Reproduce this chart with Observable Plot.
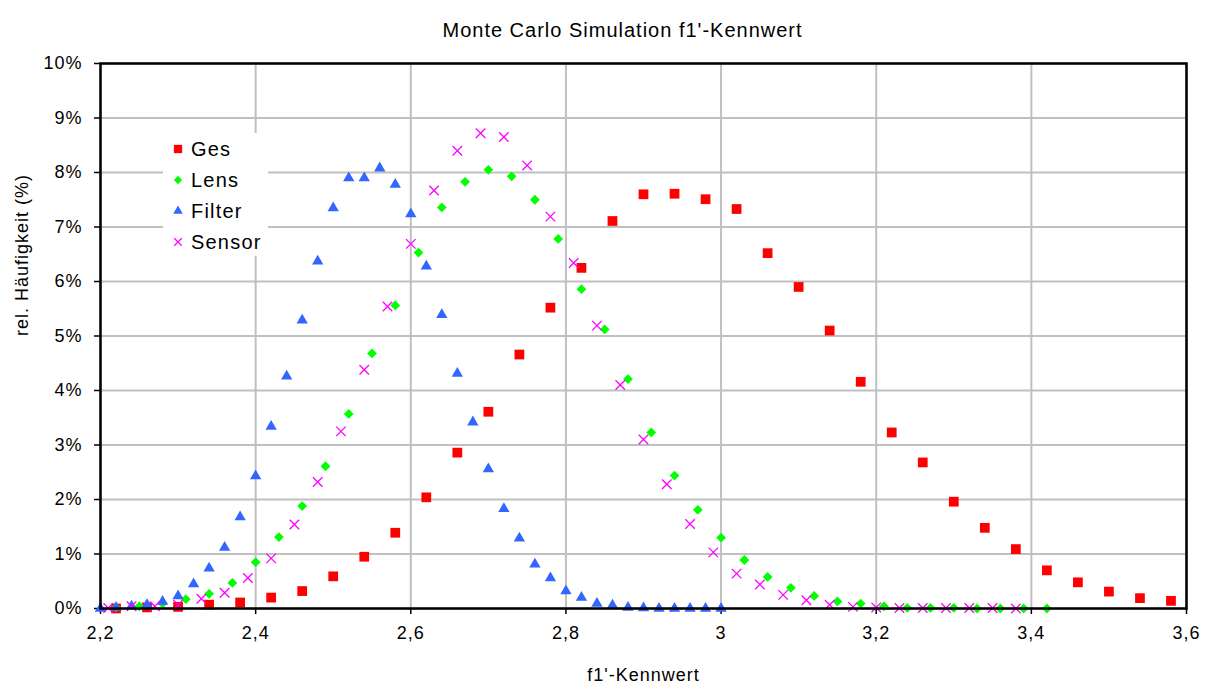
<!DOCTYPE html>
<html>
<head>
<meta charset="utf-8">
<script src="https://cdn.jsdelivr.net/npm/d3@7"></script>
<script src="https://cdn.jsdelivr.net/npm/@observablehq/plot@0.6"></script>
<style>
  html, body { margin: 0; padding: 0; background: white; }
  #chart { width: 1208px; height: 684px; }
  #chart svg text { letter-spacing: 1px; }
  #chart svg text.title { letter-spacing: 1.55px; }
  #chart svg text.ylab { letter-spacing: 0.3px; }
</style>
</head>
<body>
<div id="chart"></div>
<script>
// ---- Data ----
const seriesNames = ["Ges", "Lens", "Filter", "Sensor"];
const seriesColors = ["#ff0000", "#00ff00", "#3366ff", "#ff00ff"];

const gesX = [2.22,2.26,2.30,2.34,2.38,2.42,2.46,2.50,2.54,2.58,2.62,2.66,2.70,2.74,2.78,2.82,2.86,2.90,2.94,2.98,3.02,3.06,3.10,3.14,3.18,3.22,3.26,3.30,3.34,3.38,3.42,3.46,3.50,3.54,3.58];
const gesY = [0.00,0.02,0.03,0.07,0.11,0.20,0.32,0.59,0.95,1.39,2.04,2.86,3.61,4.66,5.52,6.25,7.11,7.60,7.61,7.51,7.33,6.52,5.90,5.10,4.16,3.23,2.68,1.96,1.48,1.09,0.70,0.48,0.31,0.19,0.14];

const lensX = [2.22,2.25,2.28,2.31,2.34,2.37,2.40,2.43,2.46,2.49,2.52,2.55,2.58,2.61,2.64,2.67,2.70,2.73,2.76,2.79,2.82,2.85,2.88,2.91,2.94,2.97,3.00,3.03,3.06,3.09,3.12,3.15,3.18,3.21,3.24,3.27,3.30,3.33,3.36,3.39,3.42];
const lensY = [0.02,0.04,0.09,0.17,0.27,0.47,0.85,1.31,1.88,2.61,3.57,4.68,5.56,6.53,7.36,7.83,8.05,7.93,7.50,6.78,5.86,5.12,4.21,3.23,2.44,1.81,1.30,0.89,0.58,0.38,0.23,0.13,0.09,0.04,0.01,0.01,0.01,0.00,0.00,0.00,0.00];

const filterX = [2.20,2.22,2.24,2.26,2.28,2.30,2.32,2.34,2.36,2.38,2.40,2.42,2.44,2.46,2.48,2.50,2.52,2.54,2.56,2.58,2.60,2.62,2.64,2.66,2.68,2.70,2.72,2.74,2.76,2.78,2.80,2.82,2.84,2.86,2.88,2.90,2.92,2.94,2.96,2.98,3.00];
const filterY = [0.00,0.02,0.04,0.07,0.13,0.23,0.45,0.74,1.12,1.68,2.43,3.34,4.26,5.29,6.37,7.35,7.90,7.90,8.08,7.78,7.24,6.28,5.39,4.31,3.42,2.56,1.83,1.29,0.81,0.56,0.32,0.20,0.09,0.06,0.02,0.01,0.00,0.00,0.00,0.00,0.00];

const sensorX = [2.21,2.24,2.27,2.30,2.33,2.36,2.39,2.42,2.45,2.48,2.51,2.54,2.57,2.60,2.63,2.66,2.69,2.72,2.75,2.78,2.81,2.84,2.87,2.90,2.93,2.96,2.99,3.02,3.05,3.08,3.11,3.14,3.17,3.20,3.23,3.26,3.29,3.32,3.35,3.38];
const sensorY = [0.01,0.04,0.04,0.07,0.18,0.29,0.56,0.92,1.54,2.32,3.25,4.38,5.54,6.69,7.67,8.40,8.72,8.65,8.13,7.19,6.34,5.19,4.10,3.10,2.28,1.55,1.03,0.64,0.44,0.25,0.15,0.07,0.03,0.02,0.01,0.01,0.01,0.01,0.01,0.00];

const xTicks = [2.2,2.4,2.6,2.8,3.0,3.2,3.4,3.6];
const yTicks = [0,1,2,3,4,5,6,7,8,9,10];

const titleText = "Monte Carlo Simulation f1'-Kennwert";
const xLabel = "f1'-Kennwert";
const yLabel = "rel. Häufigkeit (%)";

// ---- Build tables ----
const toRows = (xs, ys) => xs.map((x, i) => ({x, y: ys[i]}));
const ges = toRows(gesX, gesY);
const lens = toRows(lensX, lensY);
const filter = toRows(filterX, filterY);
const sensor = toRows(sensorX, sensorY);

const fmtX = d => String(+d.toFixed(1)).replace(".", ",");
const fmtY = d => d + "%";

const FONT = "'Liberation Sans', Arial, Helvetica, sans-serif";

const sym = {
  Ges:    {symbol: "square",   r: 5.5, filled: true},
  Lens:   {symbol: "diamond2", r: 4.4, filled: true},
  Filter: {symbol: "triangle", r: 4.2, filled: true},
  Sensor: {symbol: "times",    r: 4.4, filled: false}
};

function dotMark(data, name, color) {
  const s = sym[name];
  return s.filled
    ? Plot.dot(data, {x: "x", y: "y", symbol: () => s.symbol, r: s.r, fill: color, stroke: "none"})
    : Plot.dot(data, {x: "x", y: "y", symbol: () => s.symbol, r: s.r, fill: "none", stroke: color, strokeWidth: 1.3});
}

const chart = Plot.plot({
  width: 1208,
  height: 684,
  marginLeft: 100,
  marginRight: 22,
  marginTop: 63,
  marginBottom: 76,
  style: {fontFamily: FONT, fontSize: "18px", color: "black", background: "white"},
  symbol: {type: "identity"},
  x: {domain: [2.2, 3.6], label: null},
  y: {domain: [0, 10], label: null},
  marks: [
    Plot.gridX(xTicks, {stroke: "#c0c0c0", strokeOpacity: 1, strokeWidth: 2}),
    Plot.gridY(yTicks, {stroke: "#c0c0c0", strokeOpacity: 1, strokeWidth: 2}),
    Plot.axisX(xTicks, {tickFormat: fmtX, tickSize: 6, tickPadding: 12, stroke: "black", strokeWidth: 1.5, label: null, fontSize: 18}),
    Plot.axisY(yTicks, {tickFormat: fmtY, tickSize: 6, tickPadding: 12, stroke: "black", strokeWidth: 1.5, label: null, fontSize: 18}),
    dotMark(ges, "Ges", seriesColors[0]),
    dotMark(lens, "Lens", seriesColors[1]),
    dotMark(filter, "Filter", seriesColors[2]),
    dotMark(sensor, "Sensor", seriesColors[3]),
    Plot.frame({stroke: "black", strokeWidth: 2.5}),
    Plot.text([titleText], {text: d => d, frameAnchor: "top", dx: -21, dy: -41, fontSize: 20, className: "title"}),
    Plot.text([xLabel], {text: d => d, frameAnchor: "bottom", dy: 72, fontSize: 18}),
    Plot.text([yLabel], {text: d => d, frameAnchor: "left", dx: -78, rotate: -90, fontSize: 18, className: "ylab"})
  ]
});

document.getElementById("chart").appendChild(chart);

// ---- In-plot legend (drawn into the same SVG) ----
const svg = d3.select(chart);
const lg = svg.append("g").attr("font-family", FONT).attr("font-size", 20).attr("text-anchor", "start");
lg.append("rect").attr("x", 163).attr("y", 133).attr("width", 105).attr("height", 123).attr("fill", "white");
const rowY = [149, 180, 211, 242];
seriesNames.forEach((name, i) => {
  const s = sym[name];
  const d3type = {square: d3.symbolSquare, diamond2: d3.symbolDiamond2, triangle: d3.symbolTriangle, times: d3.symbolTimes}[s.symbol];
  const scale = name === "Sensor" ? 0.8 : 0.85;
  const p = lg.append("path")
    .attr("d", d3.symbol(d3type, Math.PI * s.r * s.r * scale * scale)())
    .attr("transform", `translate(178,${rowY[i]})`);
  if (s.filled) p.attr("fill", seriesColors[i]);
  else p.attr("fill", "none").attr("stroke", seriesColors[i]).attr("stroke-width", 1.2);
  lg.append("text").attr("x", 191).attr("y", rowY[i]).attr("dy", "0.35em")
    .attr("fill", "black").attr("text-anchor", "start").style("letter-spacing", "1.2px").text(name);
});
</script>
</body>
</html>
